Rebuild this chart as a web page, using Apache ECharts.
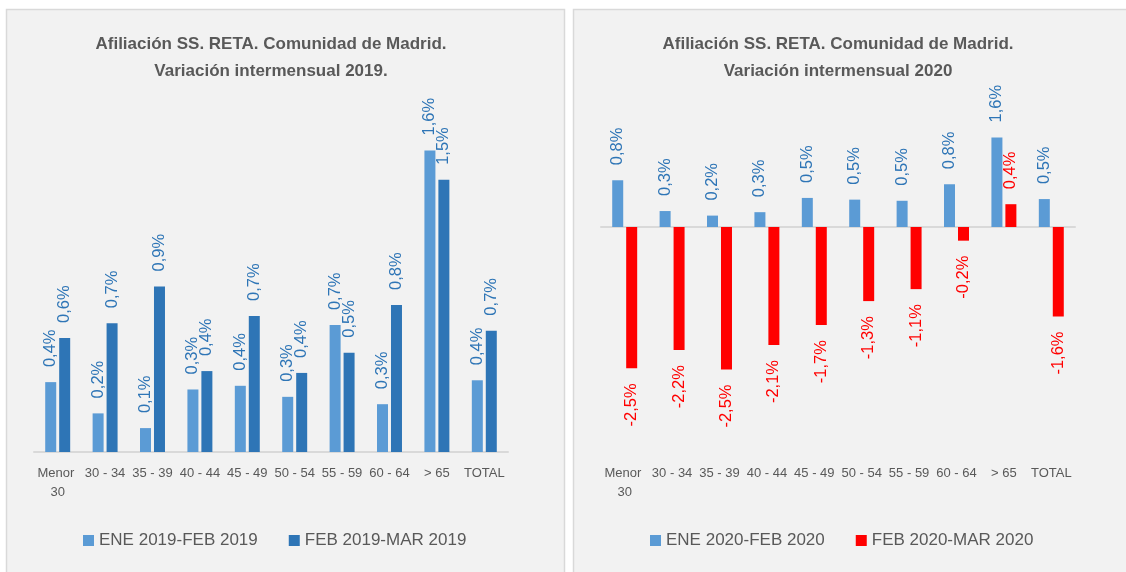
<!DOCTYPE html>
<html>
<head>
<meta charset="utf-8">
<script src="https://cdn.jsdelivr.net/npm/echarts@6/dist/echarts.min.js"></script>
<style>
html,body{margin:0;padding:0;background:#ffffff;}
#c{width:1126px;height:572px;}
</style>
</head>
<body>
<div id="c"></div>
<script>
// ---- Data ----
const categories = ['Menor 30','30 - 34','35 - 39','40 - 44','45 - 49','50 - 54','55 - 59','60 - 64','> 65','TOTAL'];
const title2019 = 'Afiliación SS. RETA. Comunidad de Madrid.\nVariación intermensual 2019.';
const title2020 = 'Afiliación SS. RETA. Comunidad de Madrid.\nVariación intermensual 2020';
const name2019a = 'ENE 2019-FEB 2019';
const name2019b = 'FEB 2019-MAR 2019';
const name2020a = 'ENE 2020-FEB 2020';
const name2020b = 'FEB 2020-MAR 2020';
const ene2019 = [0.38, 0.21, 0.13, 0.34, 0.36, 0.30, 0.69, 0.26, 1.64, 0.39];
const feb2019 = [0.62, 0.70, 0.90, 0.44, 0.74, 0.43, 0.54, 0.80, 1.48, 0.66];
const ene2020 = [0.82, 0.28, 0.20, 0.26, 0.51, 0.48, 0.46, 0.75, 1.57, 0.49];
const feb2020 = [-2.48, -2.16, -2.50, -2.07, -1.72, -1.30, -1.09, -0.24, 0.40, -1.57];

// ---- Styles ----
const GRAY = '#595959';
const LIGHT = '#5b9bd5', DARK = '#2e75b6', RED = '#ff0000';
const LABEL_BLUE = '#2e75b6';
const FONT = '"Liberation Sans", Arial, sans-serif';

function fmt(p){ return p.value.toFixed(1).replace('.', ',') + '%'; }
function barData(vals){
  return vals.map(v => ({
    value: v,
    label: v < 0 ? {position:'bottom', align:'right'} : {position:'top', align:'left'}
  }));
}
function barSeries(name, vals, xi, yi, color, labelColor){
  return {
    name: name, type:'bar', xAxisIndex: xi, yAxisIndex: yi,
    barWidth: 11, barGap: '27%',
    itemStyle: {color: color},
    data: barData(vals),
    label: {
      show: true, rotate: 90, distance: 15, verticalAlign: 'middle',
      color: labelColor, fontSize: 16.5, fontFamily: FONT,
      formatter: fmt
    },
    emphasis: {disabled: true}
  };
}
const catLabel = {
  interval: 0, color: GRAY, fontSize: 13, fontFamily: FONT,
  lineHeight: 19, width: 46, overflow: 'break'
};

const chart = echarts.init(document.getElementById('c'), null, {renderer:'canvas'});
chart.setOption({
  animation: false,
  textStyle: {fontFamily: FONT},
  graphic: [
    {type:'rect', z:-10, shape:{x:6.5, y:9.5, width:558, height:570}, style:{fill:'#f2f2f2', stroke:'#d9d9d9', lineWidth:1.5}},
    {type:'rect', z:-10, shape:{x:573.5, y:9.5, width:560, height:570}, style:{fill:'#f2f2f2', stroke:'#d9d9d9', lineWidth:1.5}}
  ],
  title: [
    {text: title2019, left: 266, top: 26, textAlign: 'center',
     textStyle:{fontSize:17, fontWeight:'bold', color:GRAY, lineHeight:27, fontFamily:FONT}},
    {text: title2020, left: 833, top: 26, textAlign: 'center',
     textStyle:{fontSize:17, fontWeight:'bold', color:GRAY, lineHeight:27, fontFamily:FONT}}
  ],
  legend: [
    {data:[name2019a, name2019b], left: 83, top: 532, padding: 0, itemWidth: 11, itemHeight: 11, itemGap: 31,
     icon: 'rect', textStyle:{fontSize:17, color:GRAY, fontFamily:FONT}},
    {data:[name2020a, name2020b], left: 650, top: 532, padding: 0, itemWidth: 11, itemHeight: 11, itemGap: 31,
     icon: 'rect', textStyle:{fontSize:17, color:GRAY, fontFamily:FONT}}
  ],
  grid: [
    {left: 34, top: 121, width: 474, height: 331},
    {left: 601, top: 113, width: 474, height: 342}
  ],
  xAxis: [
    {type:'category', gridIndex:0, data:categories,
     axisLine:{show:true, lineStyle:{color:'#d9d9d9', width:2}}, axisTick:{show:false},
     axisLabel: Object.assign({margin: 12}, catLabel)},
    {type:'category', gridIndex:1, data:categories, position:'bottom',
     axisLine:{show:true, onZero:true, lineStyle:{color:'#d9d9d9', width:2}}, axisTick:{show:false},
     axisLabel:{show:false}},
    {type:'category', gridIndex:1, data:categories, position:'bottom',
     axisLine:{show:false, onZero:false}, axisTick:{show:false},
     axisLabel: Object.assign({margin: 9}, catLabel)}
  ],
  yAxis: [
    {type:'value', gridIndex:0, min:0, max:1.8, show:false, splitLine:{show:false}},
    {type:'value', gridIndex:1, min:-4, max:2, show:false, splitLine:{show:false}}
  ],
  series: [
    barSeries(name2019a, ene2019, 0, 0, LIGHT, LABEL_BLUE),
    barSeries(name2019b, feb2019, 0, 0, DARK, LABEL_BLUE),
    barSeries(name2020a, ene2020, 1, 1, LIGHT, LABEL_BLUE),
    barSeries(name2020b, feb2020, 1, 1, RED, RED)
  ]
});
</script>
</body>
</html>
